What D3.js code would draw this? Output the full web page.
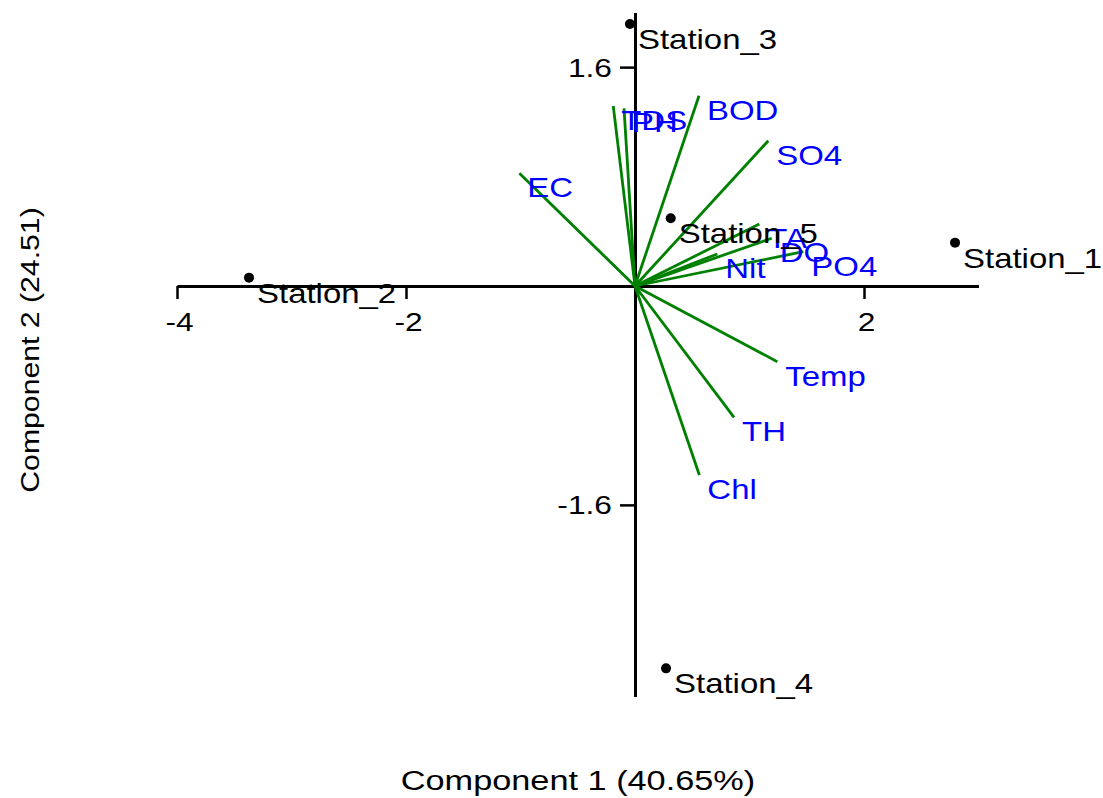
<!DOCTYPE html>
<html>
<head>
<meta charset="utf-8">
<script src="https://cdn.jsdelivr.net/npm/d3@7"></script>
<style>
  html, body { margin: 0; padding: 0; background: #ffffff; }
  svg { display: block; }
  text { font-family: "Liberation Sans", Arial, Helvetica, sans-serif; }
</style>
</head>
<body>
<svg id="chart" width="1103" height="798"></svg>
<script>
// PCA biplot: station scores and variable loadings on components 1 and 2
const stations = ["Station_1", "Station_2", "Station_3", "Station_4", "Station_5"];
const scoreComp1 = [2.795, -3.371, -0.044, 0.271, 0.312];
const scoreComp2 = [0.317, 0.061, 1.915, -2.795, 0.495];

const variables = ["Temp", "PH", "EC", "TDS", "TA", "TH", "Chl", "DO", "BOD", "Nit", "PO4", "SO4"];
const loadComp1 = [1.243, -0.096, -1.010, -0.190, 1.086, 0.865, 0.562, 1.194, 0.559, 0.719, 1.470, 1.164];
const loadComp2 = [-0.553, 1.299, 0.824, 1.316, 0.453, -0.960, -1.382, 0.349, 1.391, 0.234, 0.251, 1.062];

const xTicks = [-4, -2, 2];
const yTicks = [1.6, -1.6];
const xTitle = "Component 1 (40.65%)";
const yTitle = "Component 2 (24.51)";

const svg = d3.select("#chart");
const W = 1103, H = 798;
svg.append("rect").attr("width", W).attr("height", H).attr("fill", "#ffffff");

const x = d3.scaleLinear().domain([-4, 3]).range([177, 978.5]);
const y = d3.scaleLinear().domain([-3, 2]).range([696.4, 12.4]);

const FONT = 27;
const SX = 1.22; // horizontal widening of the lettering

function place(sel, px, py, sx) {
  sel.attr("x", 0).attr("y", 0)
     .attr("transform", `translate(${px},${py}) scale(${sx},1)`);
}

// Plain hyphen for negative tick values
const fmt = d => String(d);

// Axes crossing at the origin
const xAxis = d3.axisBottom(x).tickValues(xTicks).tickSize(13).tickSizeOuter(0)
  .tickFormat(fmt);
const gx = svg.append("g").attr("transform", `translate(0,${y(0)})`).call(xAxis);

const yAxis = d3.axisLeft(y).tickValues(yTicks).tickSize(15).tickSizeOuter(0)
  .tickFormat(fmt);
const gy = svg.append("g").attr("transform", `translate(${x(0)},0)`).call(yAxis);

[gx, gy].forEach(g => {
  g.select(".domain").attr("stroke", "#000").attr("stroke-width", 3);
  g.selectAll(".tick line").attr("stroke", "#000").attr("stroke-width", 2.5);
  g.selectAll(".tick text")
    .attr("fill", "#000")
    .style("font-size", "26px")
    .style("font-family", '"Liberation Sans", Arial, sans-serif');
});
gx.selectAll(".tick text").attr("dy", null).attr("text-anchor", "middle")
  .each(function () { place(d3.select(this), 2, 45, SX); });
gy.selectAll(".tick text").attr("dy", "0.35em").attr("text-anchor", "end")
  .each(function () { place(d3.select(this), -23, 0, SX); });

// Loading vectors
const vecs = variables.map((v, i) => ({ name: v, a: loadComp1[i], b: loadComp2[i] }));
svg.append("g").selectAll("line").data(vecs).join("line")
  .attr("x1", x(0)).attr("y1", y(0))
  .attr("x2", d => x(d.a)).attr("y2", d => y(d.b))
  .attr("stroke", "#008000").attr("stroke-width", 2.8);

svg.append("g").selectAll("text").data(vecs).join("text")
  .text(d => d.name)
  .attr("fill", "#0000ff")
  .style("font-size", FONT + "px")
  .each(function (d) { place(d3.select(this), x(d.a) + 8, y(d.b) + 24, SX); });

// Station scores
const pts = stations.map((s, i) => ({ name: s, a: scoreComp1[i], b: scoreComp2[i] }));
svg.append("g").selectAll("circle").data(pts).join("circle")
  .attr("cx", d => x(d.a)).attr("cy", d => y(d.b)).attr("r", 5)
  .attr("fill", "#000");

svg.append("g").selectAll("text").data(pts).join("text")
  .text(d => d.name)
  .attr("fill", "#000")
  .style("font-size", FONT + "px")
  .each(function (d) { place(d3.select(this), x(d.a) + 8, y(d.b) + 25, SX); });

// Axis titles
svg.append("text").text(xTitle)
  .attr("text-anchor", "middle").attr("fill", "#000")
  .style("font-size", "27px")
  .call(s => place(s, 578, 790, 1.27));

svg.append("text").text(yTitle)
  .attr("text-anchor", "middle").attr("fill", "#000")
  .style("font-size", "26.5px")
  .attr("x", 0).attr("y", 0)
  .attr("transform", "translate(39,350) rotate(-90) scale(1.14,1)");
</script>
</body>
</html>
